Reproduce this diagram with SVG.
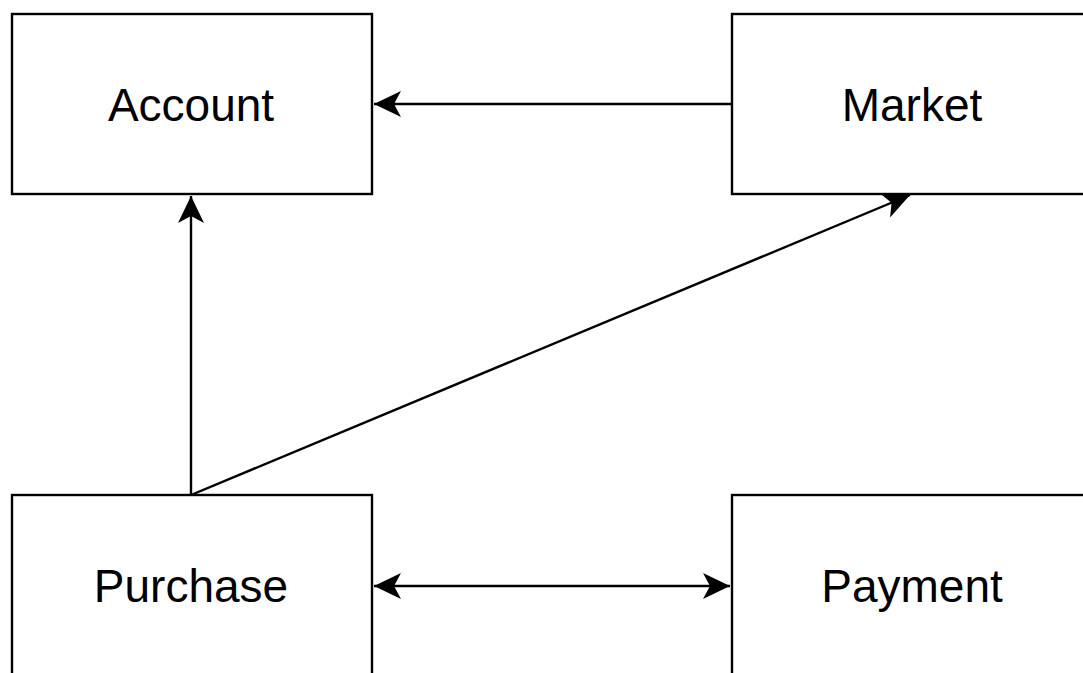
<svg xmlns="http://www.w3.org/2000/svg" width="1083" height="673" viewBox="0 0 1083 673">
<style>
.box{fill:#fff;stroke:#000;stroke-width:2.4}
.lbl{font-family:"Liberation Sans",Arial,sans-serif;font-size:46px;fill:#000;text-anchor:middle}
.edge{fill:none;stroke:#000;stroke-width:2.4}
</style>
<defs>
<marker id="arr" markerUnits="userSpaceOnUse" markerWidth="30" markerHeight="30" viewBox="-28 -15 30 30" refX="0" refY="0" orient="auto-start-reverse" overflow="visible">
<path d="M0,0 L-27,-13 L-20,0 L-27,13 Z" fill="#000"/>
</marker>
</defs>
<rect width="1083" height="673" fill="#fff"/>
<g id="edges">
<path class="edge" d="M732,104 L374,104" marker-end="url(#arr)"/>
<path class="edge" d="M191,495 L191,196" marker-end="url(#arr)"/>
<path class="edge" d="M191,495 L910,195" marker-end="url(#arr)"/>
<path class="edge" d="M374,586 L730,586" marker-start="url(#arr)" marker-end="url(#arr)"/>
</g>
<g id="account"><rect class="box" x="12" y="14" width="360" height="180"/><text class="lbl" x="191" y="121">Account</text></g>
<g id="market"><rect class="box" x="732" y="14" width="360" height="180"/><text class="lbl" x="912" y="121">Market</text></g>
<g id="purchase"><rect class="box" x="12" y="495" width="360" height="180"/><text class="lbl" x="191" y="602">Purchase</text></g>
<g id="payment"><rect class="box" x="732" y="495" width="360" height="180"/><text class="lbl" x="912" y="602">Payment</text></g>
</svg>
